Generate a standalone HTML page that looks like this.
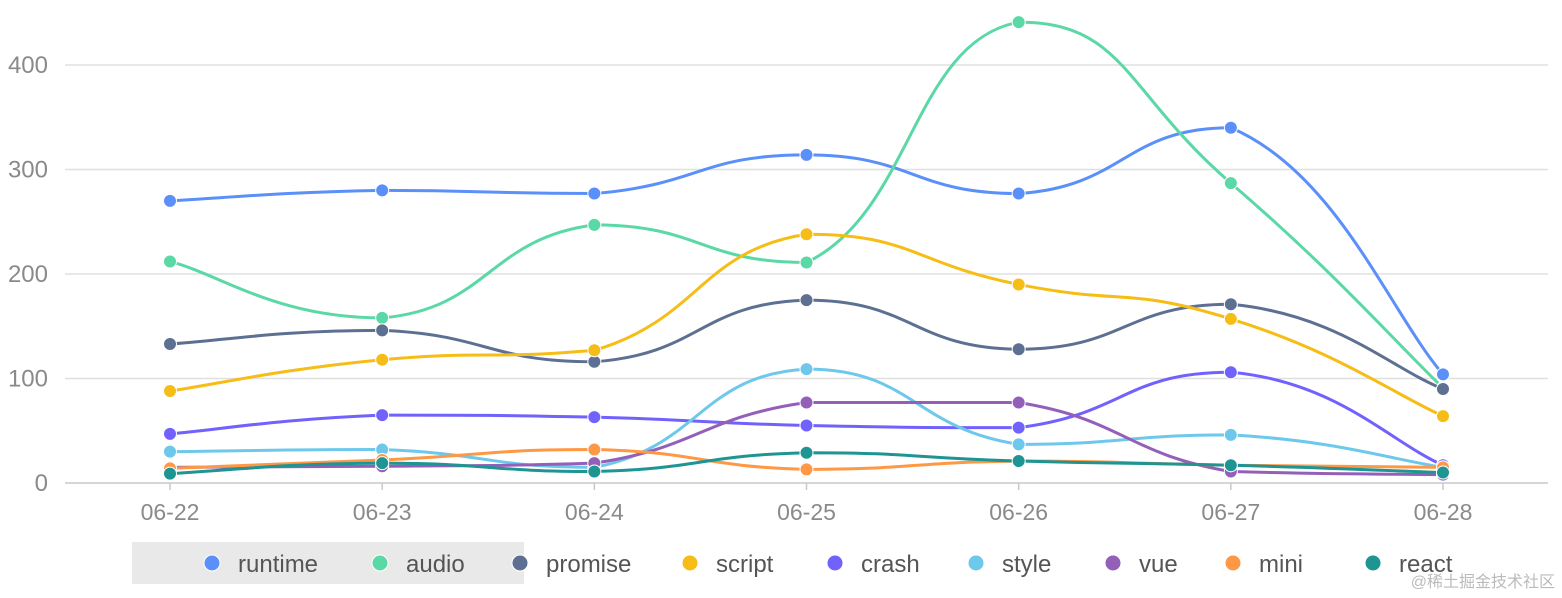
<!DOCTYPE html>
<html><head><meta charset="utf-8">
<style>
html,body{margin:0;padding:0;background:#fff;width:1562px;height:598px;overflow:hidden;font-family:"Liberation Sans","Noto Sans CJK SC",sans-serif}
</style></head>
<body>
<svg id="chart" width="1562" height="598" xmlns="http://www.w3.org/2000/svg">
<rect x="132" y="542" width="392" height="42" fill="#e9e9e9"/>
<g id="grid"></g><g id="series"></g><g id="legend"></g>
<text x="1555" y="587" text-anchor="end" font-size="16" fill="#bbb">@稀土掘金技术社区</text>
</svg>
<script>
const categories=["06-22","06-23","06-24","06-25","06-26","06-27","06-28"];
const yTicks=[0,100,200,300,400];
const seriesNames=["runtime","audio","promise","script","crash","style","vue","mini","react"];
const seriesColors=["#5B8FF9","#5AD8A6","#5D7092","#F6BD16","#7262FD","#6DC8EC","#945FB9","#FF9845","#1E9493"];
const runtime=[270,280,277,314,277,340,104];
const audio=[212,158,247,211,441,287,91];
const promise=[133,146,116,175,128,171,90];
const script=[88,118,127,238,190,157,64];
const crash=[47,65,63,55,53,106,17];
const style=[30,32,15,109,37,46,15];
const vue=[15,16,19,77,77,11,8];
const mini=[14,22,32,13,21,17,15];
const react=[9,19,11,29,21,17,10];
const allSeries=[runtime,audio,promise,script,crash,style,vue,mini,react];

const NS="http://www.w3.org/2000/svg";
const x0=170,x1=1443,yBase=483,yPer=1.045;
function xScale(i){return x0+i*(x1-x0)/(categories.length-1);}
function yScale(v){return yBase-v*yPer;}
function mk(tag,attrs,parent){const e=document.createElementNS(NS,tag);for(const k in attrs)e.setAttribute(k,attrs[k]);parent.appendChild(e);return e;}
const grid=document.getElementById('grid');
yTicks.forEach(t=>{
  const y=yScale(t);
  if(t>0){const l=mk('line',{x1:65,x2:1548,y1:y,y2:y,stroke:'#e0e0e0','stroke-width':1.5},grid);
  
  }
  const tx=mk('text',{x:48,y:y+8,'text-anchor':'end','font-size':24,fill:'#8a8a8a'},grid);
  tx.textContent=t;
  
  
});
const ax=mk('line',{x1:65,x2:1548,y1:yBase,y2:yBase,stroke:'#c8c8c8','stroke-width':1.5},grid);


categories.forEach((c,i)=>{
  const x=xScale(i);
  const tk=mk('line',{x1:x,x2:x,y1:yBase,y2:yBase+7,stroke:'#c8c8c8','stroke-width':1.5},grid);
  
  
  const tx=mk('text',{x:x,y:520,'text-anchor':'middle','font-size':23,fill:'#8a8a8a'},grid);
  tx.textContent=c;
  
  
});
function clamp(v,a,b){const lo=Math.min(a,b),hi=Math.max(a,b);return Math.max(lo,Math.min(hi,v));}
function pathFor(vals){
  const p=vals.map((v,i)=>[xScale(i),yScale(v)]);
  let d='M'+p[0][0]+','+p[0][1];
  const s=0.25;
  for(let i=0;i<p.length-1;i++){
    const a=p[i],b=p[i+1],pr=p[i-1]||a,nx=p[i+2]||b;
    const c1=[a[0]+(b[0]-pr[0])*s,clamp(a[1]+(b[1]-pr[1])*s,a[1],b[1])];
    const c2=[b[0]-(nx[0]-a[0])*s,clamp(b[1]-(nx[1]-a[1])*s,a[1],b[1])];
    d+=' C'+c1[0]+','+c1[1]+' '+c2[0]+','+c2[1]+' '+b[0]+','+b[1];
  }
  return d;
}
const sg=document.getElementById('series');
allSeries.forEach((vals,si)=>{
  const g=mk('g',{},sg);
  
  
  const pa=mk('path',{d:pathFor(vals),fill:'none',stroke:seriesColors[si],'stroke-width':3},g);
  
  
  vals.forEach((v,i)=>{
    const c=mk('circle',{cx:xScale(i),cy:yScale(v),r:6.5,fill:seriesColors[si],stroke:'#fff','stroke-width':1},g);
    
    
  });
});
const lg=document.getElementById('legend');
const legX=[212,380,520,690,835,976,1113,1233,1373];
seriesNames.forEach((n,i)=>{
  const g=mk('g',{},lg);
  
  
  mk('circle',{cx:legX[i],cy:563,r:8,fill:seriesColors[i],stroke:'#fff','stroke-width':1},g);
  const t=mk('text',{x:legX[i]+26,y:572,'font-size':24,fill:'#555'},g);
  t.textContent=n;
});
</script>
</body></html>
